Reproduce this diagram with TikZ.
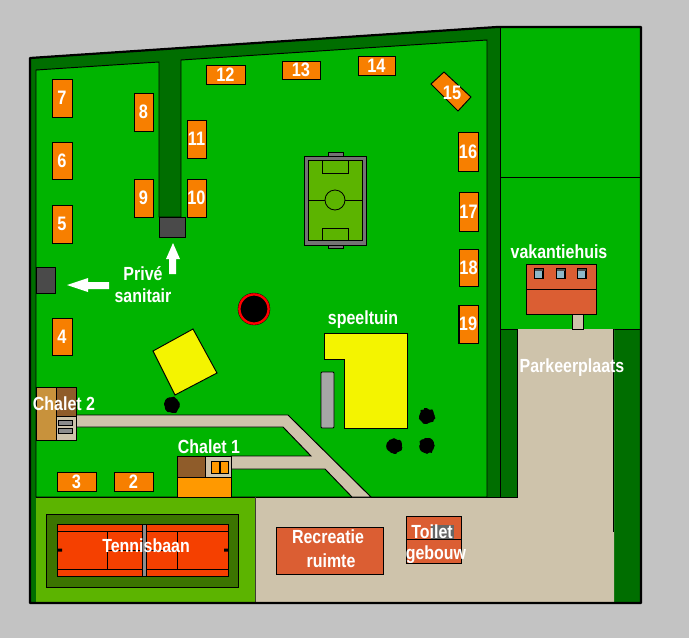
\documentclass[tikz,border=0pt]{standalone}
\usepackage{fontspec}
\setmainfont[FakeStretch=0.84]{Liberation Sans}
\usetikzlibrary{decorations.pathmorphing}
\definecolor{bgc}{HTML}{C3C3C3}
\definecolor{grass}{HTML}{00B400}
\definecolor{dgreen}{HTML}{006E00}
\definecolor{lgreen}{HTML}{5CB400}
\definecolor{tan}{HTML}{CEC3AB}
\definecolor{cabinc}{HTML}{F77F00}
\definecolor{courtc}{HTML}{F54000}
\definecolor{courtd}{HTML}{3C7400}
\definecolor{housec}{HTML}{DB5E33}
\definecolor{yel}{HTML}{F4F400}
\definecolor{chor}{HTML}{FF9900}
\definecolor{brownd}{HTML}{8F5C2A}
\definecolor{brownl}{HTML}{C8923C}
\definecolor{sani}{HTML}{4A4A4A}
\definecolor{fieldg}{HTML}{5CB400}
\definecolor{glass}{HTML}{8FB8C8}
\tikzset{
  ln/.style={draw=black,line width=.95pt},
  lbl/.style={text=white,font=\bfseries\fontsize{19}{21}\selectfont,inner sep=0pt,align=center},
  cabin/.style={ln,fill=cabinc,inner sep=0pt,text=white,font=\bfseries\fontsize{19.5}{21}\selectfont},
  treeb/.style={fill=black,draw=black,line width=1pt,decorate,decoration={random steps,segment length=1.8pt,amplitude=.9pt}},
}
\newcommand{\cab}[6]{\node[cabin,minimum width=#3 pt,minimum height=#4 pt] (#6) at (#1,#2) {#5};}
\pgfmathsetseed{7}
\begin{document}
\begin{tikzpicture}[x=1pt,y=-1pt]
\useasboundingbox (0,0) rectangle (689,638);
\fill[bgc] (0,0) rectangle (689,638);
% base
\fill[dgreen] (30,58) -- (497,27) -- (500,27) -- (500,603) -- (30,603) -- cycle;
\fill[grass] (500,27) rectangle (641,329);
\fill[dgreen] (500,329) rectangle (641,603);
% main field
\draw[ln,fill=grass] (36,70) -- (159,62) -- (159,217) -- (181,217) -- (181,60) -- (487,40) -- (487,497) -- (36,497) -- cycle;
\draw[ln] (500,27) -- (500,497);
\draw[line width=.7pt] (500,177) -- (641,177);
\draw[ln] (500,329) -- (641,329);
% parking and paved ground
\fill[tan] (517,329) -- (614,329) -- (614,603) -- (255,603) -- (255,497) -- (517,497) -- cycle;
\draw[ln] (517,329) -- (517,497) -- (255,497);
\draw[ln] (613,329) -- (613,532);
\draw[ln] (500,497) -- (517,497);
% light green
\fill[lgreen] (36,497) rectangle (255,603);
\draw[ln] (36,497) -- (255,497);
\draw[line width=.9pt,draw=black!70!tan] (255,497) -- (255,603);
% outline
\draw[line width=2.2pt,line join=round] (30,603) -- (30,58) -- (497,27) -- (641,27) -- (641,603) -- cycle;
% tennis
\draw[ln,fill=courtd] (46,514) rectangle (238,587);
\draw[ln,fill=courtc] (57,524) rectangle (228,576);
\draw[line width=.8pt] (57,531) -- (228,531) (57,569) -- (228,569) (107,531) -- (107,569) (177,531) -- (177,569) (107,550) -- (177,550);
\draw[draw=black,fill=black!45,line width=.7pt] (142,524) rectangle (146.5,576);
\fill[black] (57,548.5) rectangle (62,551.5) (224,548.5) rectangle (228,551.5);
% paths
\draw[ln,fill=tan] (76,415) -- (288,415) -- (371,497) -- (352,497) -- (325,469) -- (231,469) -- (231,456) -- (311,456) -- (283,427) -- (76,427);
% chalet 2
\draw[ln,fill=brownl] (36,387) rectangle (56,440);
\draw[ln,fill=brownd] (56,387) rectangle (76,416);
\draw[ln,fill=tan] (56,416) rectangle (76,440);
\draw[line width=.7pt,fill=black!45] (58,420) rectangle (72,425) (58,428) rectangle (72,433);
% chalet 1
\draw[ln,fill=brownd] (177,456) rectangle (205,477);
\draw[ln,fill=tan] (205,456) rectangle (231,477);
\draw[ln,fill=chor] (177,477) rectangle (231,497);
\draw[line width=.7pt,fill=chor] (211,461) rectangle (219,473) (220,461) rectangle (228,473);
% soccer
\draw[ln,fill=black!55] (328,152) rectangle (343,157) (328,244) rectangle (343,248);
\draw[ln,fill=black!55] (304,156) rectangle (366,245);
\draw[ln,fill=fieldg] (308,160) rectangle (362,240);
\draw[line width=.8pt] (322,160) rectangle (348,173) (322,228) rectangle (348,240) (308,200) -- (362,200);
\draw[line width=.8pt,fill=fieldg] (335,200) circle (10);
% sanitary
\draw[ln,fill=sani] (159,217) rectangle (185,237);
\draw[ln,fill=sani] (36,267) rectangle (55,293);
% arrows
\fill[white] (173,243) -- (180,259) -- (176,259) -- (176,274) -- (169,274) -- (169,259) -- (166,259) -- cycle;
\fill[white] (67,285) -- (88,278) -- (88,282) -- (109,282) -- (109,289) -- (88,289) -- (88,292) -- cycle;
% hole
\fill[black] (254,309) circle (16.2);
\draw[draw=red,line width=2.4pt] (254,309) circle (14.6);
% playground
\draw[ln,fill=yel] (153,351) -- (193,329) -- (217,373) -- (175,395) -- cycle;
\draw[ln,fill=yel] (324,333) -- (407,333) -- (407,428) -- (344,428) -- (344,359) -- (324,359) -- cycle;
\draw[ln,fill=black!35,rounded corners=1pt] (321,372) rectangle (334,428);
% trees
\draw[treeb] (172,405) circle (7);
\draw[treeb] (427,416) circle (7);
\draw[treeb] (394,446) circle (7);
\draw[treeb] (427,446) circle (7);
% cabins
\cab{62}{98}{20}{38}{7}{c7}
\cab{62}{160.5}{20}{37}{6}{c6}
\cab{62}{224}{20}{38}{5}{c5}
\cab{62}{336.5}{20}{37}{4}{c4}
\cab{143.5}{112}{19}{38}{8}{c8}
\cab{143.5}{198}{19}{38}{9}{c9}
\cab{196.5}{139}{19}{38}{11}{c11}
\cab{196.5}{198}{19}{38}{10}{c10}
\cab{225.5}{74.5}{39}{19}{12}{c12}
\cab{301}{70}{38}{18}{13}{c13}
\cab{376.5}{65.5}{37}{19}{14}{c14}
\cab{468}{151.5}{20}{39}{16}{c16}
\cab{468.5}{211.5}{19}{39}{17}{c17}
\cab{468.5}{267.5}{19}{37}{18}{c18}
\cab{468}{324}{20}{38}{19}{c19}
\cab{76.5}{481.5}{39}{19}{3}{c3}
\cab{133.5}{481.5}{39}{19}{2}{c2}
\draw[ln,fill=cabinc] (431,84) -- (444,72) -- (471,97) -- (458,111) -- cycle;
\node[lbl,font=\bfseries\fontsize{19.5}{21}\selectfont] (c15) at (452,93) {15};
\draw[black,line width=1.6pt] (458.8,305) -- (458.8,343);
% house
\draw[ln,fill=tan] (572,314) rectangle (583,329);
\draw[ln,fill=housec] (526,264) rectangle (596,314);
\draw[ln] (526,289) -- (596,289);
\foreach \wx in {534,556,577}{
  \draw[line width=1.6pt,fill=glass] (\wx+.5,268.5) rectangle (\wx+9,278.5);
  \fill[black!70] (\wx+1,269) rectangle (\wx+9,271);
}
% recreation & toilet
\draw[ln,fill=housec] (276,527) rectangle (383,574);
\draw[ln,fill=housec] (406,516) rectangle (461,563);
\fill[black!60] (431,525) rectangle (454,539);
\draw[ln] (406,539) -- (461,539);
% labels
\node[lbl] (l1) at (64,404) {Chalet 2};
\node[lbl] (l2) at (209,447) {Chalet 1};
\node[lbl] (l3) at (146,546) {Tennisbaan};
\node[lbl] (l4) at (328,537) {Recreatie};
\node[lbl] (l5) at (331,561) {ruimte};
\node[lbl] (l6) at (432,532) {Toilet};
\node[lbl] (l7) at (436,555) {gebouw};
\node[lbl] (l8) at (363,320) {speeltuin};
\node[lbl] (l9) at (559,252) {vakantiehuis};
\node[lbl] (l10) at (572,368) {Parkeerplaats};
\node[lbl] (l11) at (143,274) {Privé};
\node[lbl] (l12) at (143,296) {sanitair};
\end{tikzpicture}
\end{document}
